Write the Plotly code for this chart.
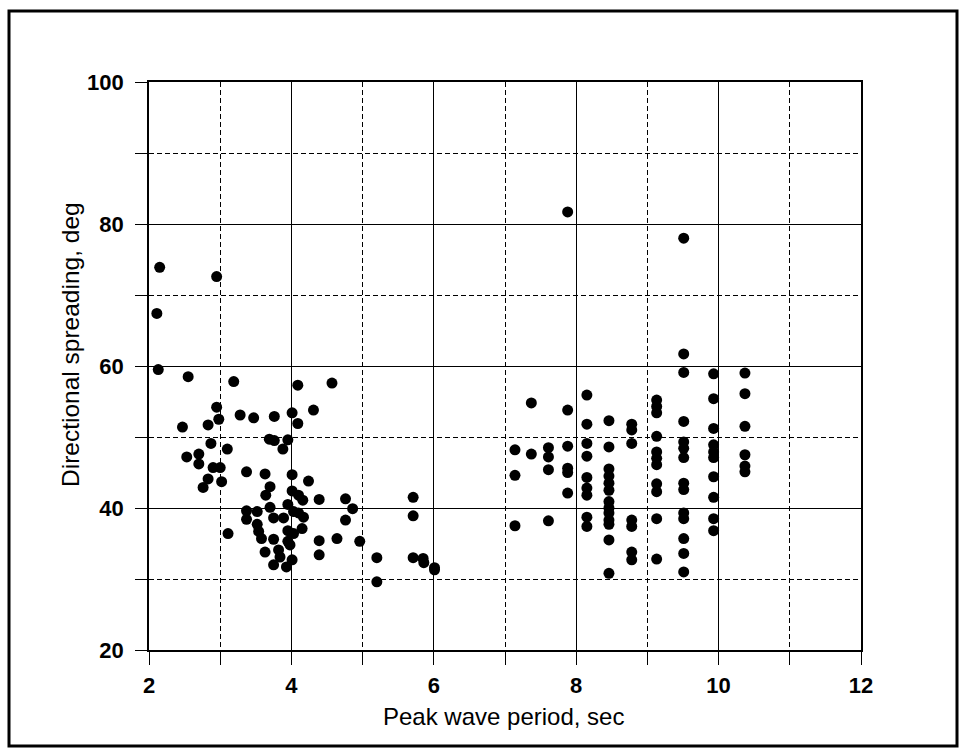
import plotly.graph_objects as go

# Short-period cluster (sea)
sea_period = [2.11, 2.15, 2.13, 2.95, 2.55, 3.19, 4.09, 4.57, 2.95, 2.98, 3.28, 3.47, 3.76, 4.01, 4.31, 4.09,
              2.83, 2.47, 3.69, 3.76, 3.95, 3.88, 2.87, 3.10, 2.53, 2.70, 2.70, 2.90, 3.00,
              3.37, 3.63, 4.01, 4.24, 2.83, 2.76, 3.02, 3.70, 3.64, 4.01, 4.10, 4.16, 4.39,
              3.37, 3.37, 3.52, 3.70, 3.95, 3.75, 3.89, 4.03, 4.10, 4.17, 4.15,
              3.52, 3.54, 3.58, 3.75, 3.95, 4.03, 3.95, 3.98,
              3.11, 4.39, 4.39, 4.64, 3.63, 3.82, 3.84, 3.75, 4.01, 3.93,
              4.76, 4.86, 4.76, 4.96, 5.20, 5.20, 5.71, 5.71, 5.71, 5.85, 5.86, 6.01, 6.01]
sea_spread = [67.4, 73.9, 59.5, 72.6, 58.5, 57.8, 57.3, 57.6, 54.2, 52.5, 53.1, 52.7, 52.9, 53.4, 53.8, 51.9,
              51.7, 51.4, 49.7, 49.5, 49.6, 48.3, 49.1, 48.3, 47.2, 47.6, 46.2, 45.7, 45.7,
              45.1, 44.8, 44.7, 43.8, 44.1, 42.9, 43.7, 43.0, 41.8, 42.4, 41.8, 41.1, 41.2,
              39.6, 38.4, 39.5, 40.1, 40.5, 38.6, 38.6, 39.5, 39.3, 38.7, 37.1,
              37.7, 36.7, 35.7, 35.6, 36.8, 36.4, 35.3, 34.8,
              36.4, 35.4, 33.4, 35.7, 33.8, 34.1, 33.1, 32.0, 32.7, 31.7,
              41.3, 39.9, 38.3, 35.3, 33.0, 29.6, 41.5, 38.9, 33.0, 32.9, 32.3, 31.6, 31.3]

# Long-period cluster (swell)
swell_period = [7.88, 7.37, 7.88, 7.14, 7.37, 7.61, 7.61, 7.61, 7.88, 7.88, 7.88, 7.88, 7.14, 7.14, 7.61,
                8.15, 8.15, 8.15, 8.15, 8.15, 8.15, 8.15, 8.15, 8.15,
                8.46, 8.46, 8.46, 8.46, 8.46, 8.46, 8.46, 8.46, 8.46, 8.46, 8.46, 8.46, 8.46,
                8.78, 8.78, 8.78, 8.78, 8.78, 8.78, 8.78,
                9.13, 9.13, 9.13, 9.13, 9.13, 9.13, 9.13, 9.13, 9.13, 9.13, 9.13,
                9.51, 9.51, 9.51, 9.51, 9.51, 9.51, 9.51, 9.51, 9.51, 9.51, 9.51, 9.51, 9.51, 9.51,
                9.93, 9.93, 9.93, 9.93, 9.93, 9.93, 9.93, 9.93, 9.93, 9.93,
                10.37, 10.37, 10.37, 10.37, 10.37, 10.37]
swell_spread = [81.7, 54.8, 53.8, 48.2, 47.6, 48.5, 47.2, 45.4, 48.7, 45.6, 45.0, 42.1, 44.6, 37.5, 38.2,
                55.9, 51.8, 49.1, 47.3, 44.3, 42.8, 41.8, 38.7, 37.4,
                52.3, 48.6, 45.5, 44.5, 43.5, 42.5, 40.9, 40.0, 39.3, 38.3, 37.7, 35.5, 30.8,
                51.8, 51.0, 49.1, 38.3, 37.4, 33.8, 32.7,
                55.2, 54.3, 53.4, 50.1, 47.9, 47.0, 46.1, 43.4, 42.3, 38.5, 32.8,
                78.0, 61.7, 59.1, 52.2, 49.3, 48.4, 47.1, 43.5, 42.6, 39.3, 38.5, 35.7, 33.6, 31.0,
                58.9, 55.4, 51.2, 48.9, 47.9, 47.1, 44.4, 41.5, 38.5, 36.8,
                59.0, 56.1, 51.5, 47.5, 45.9, 45.1]

x_ticks = [2, 4, 6, 8, 10, 12]
y_ticks = [20, 40, 60, 80, 100]

FONT = "Liberation Sans, Arial, sans-serif"
DASH = "5px,3px"

fig = go.Figure()
fig.add_trace(go.Scatter(x=sea_period + swell_period, y=sea_spread + swell_spread, mode="markers",
                         marker=dict(color="black", size=11, line=dict(width=0)), showlegend=False))

W, H = 960, 752
L, R, T, B = 149, 99, 82, 102
pw, ph = W - L - R, H - T - B

def px(xp):
    return (xp - L) / pw

def py(yp):
    return (H - B - yp) / ph

tickfont = dict(size=22, family=FONT, weight="bold")

fig.update_layout(
    width=W, height=H,
    margin=dict(l=L, r=R, t=T, b=B),
    paper_bgcolor="white", plot_bgcolor="white",
    font=dict(family=FONT, color="black"),
    xaxis=dict(range=[2, 12], tickvals=x_ticks, showgrid=True, gridcolor="black", gridwidth=1.3,
               showline=True, linecolor="black", linewidth=1.8, mirror=True,
               ticks="outside", ticklen=13, tickcolor="black", tickwidth=1.3,
               tickfont=tickfont, ticklabelstandoff=2, zeroline=False,
               minor=dict(dtick=1, showgrid=True, gridcolor="black", griddash=DASH, gridwidth=1,
                          ticks="outside", ticklen=13, tickcolor="black", tickwidth=1)),
    yaxis=dict(range=[20, 100], tickvals=y_ticks, showgrid=True, gridcolor="black", gridwidth=1.3,
               showline=True, linecolor="black", linewidth=1.8, mirror=True,
               ticks="outside", ticklen=12, tickcolor="black", tickwidth=1.3,
               tickfont=tickfont, ticklabelstandoff=7, zeroline=False,
               minor=dict(dtick=10, showgrid=True, gridcolor="black", griddash=DASH, gridwidth=1,
                          ticks="outside", ticklen=12, tickcolor="black", tickwidth=1)),
    shapes=[dict(type="rect", xref="paper", yref="paper",
                 x0=px(9), x1=px(957), y0=py(746), y1=py(11),
                 line=dict(color="black", width=3), fillcolor="rgba(0,0,0,0)", layer="above")],
    annotations=[
        dict(text="Peak wave period, sec", xref="paper", yref="paper", x=px(503), y=py(716),
             showarrow=False, font=dict(size=24, family=FONT), borderpad=0,
             xanchor="center", yanchor="middle"),
        dict(text="Directional spreading, deg", xref="paper", yref="paper", x=px(70), y=py(345),
             textangle=-90, showarrow=False, font=dict(size=24.5, family=FONT), borderpad=0,
             xanchor="center", yanchor="middle"),
    ],
)

fig.write_html("out.html", config={"displayModeBar": False},
               post_script="document.body.style.margin='0';document.body.style.overflow='hidden';")
